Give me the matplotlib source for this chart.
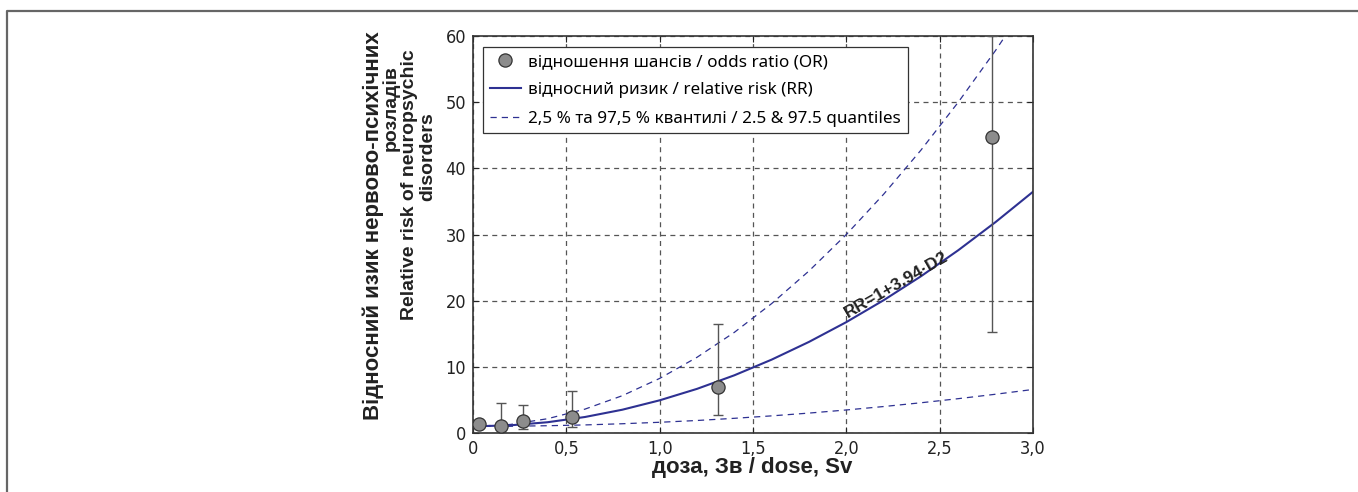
import numpy as np
import matplotlib
matplotlib.use("Agg")
import matplotlib.pyplot as plt
from matplotlib.lines import Line2D

# odds ratio points with confidence limits
or_dose = [0.03, 0.15, 0.27, 0.53, 1.31, 2.78]
or_value = [1.3, 1.1, 1.8, 2.4, 7.0, 44.8]
or_low = [0.9, 0.7, 0.6, 0.9, 2.7, 15.2]
or_high = [1.7, 4.5, 4.3, 6.3, 16.4, 60.0]

# model curves
curve_dose = [0.0, 0.2, 0.4, 0.6, 0.8, 1.0, 1.2, 1.4, 1.6, 1.8, 2.0, 2.2, 2.4, 2.6, 2.8, 3.0]
rr_mid = [1.00, 1.16, 1.63, 2.42, 3.52, 4.94, 6.67, 8.72, 11.09, 13.77, 16.76, 20.07, 23.69, 27.63, 31.89, 36.46]
rr_upper = [1.00, 1.29, 2.16, 3.61, 5.64, 8.25, 11.44, 15.21, 19.56, 24.49, 30.00, 36.09, 42.76, 50.01, 57.84, 66.25]
rr_lower = [1.00, 1.02, 1.10, 1.22, 1.40, 1.62, 1.89, 2.22, 2.59, 3.01, 3.48, 4.00, 4.57, 5.19, 5.86, 6.58]

x_ticks = [0, 0.5, 1.0, 1.5, 2.0, 2.5, 3.0]
x_tick_labels = ["0", "0,5", "1,0", "1,5", "2,0", "2,5", "3,0"]
y_ticks = [0, 10, 20, 30, 40, 50, 60]

W, H = 1358, 492
blue = "#2e3192"
bold_font = ["Liberation Sans", "DejaVu Sans"]

fig = plt.figure(figsize=(W / 100, H / 100), dpi=100)
ax = fig.add_axes([473 / W, 1 - 433 / H, 560 / W, 397 / H])

ax.grid(True, color="#555555", linestyle=(0, (4, 3.5)), linewidth=0.9)
ax.set_axisbelow(True)

ax.plot(curve_dose, rr_mid, color=blue, linewidth=1.5,
        label="відносний ризик / relative risk (RR)")
ax.plot(curve_dose, rr_upper, color=blue, linewidth=0.9, linestyle=(0, (5, 4)),
        label="2,5 % та 97,5 % квантилі / 2.5 & 97.5 quantiles")
ax.plot(curve_dose, rr_lower, color=blue, linewidth=0.9, linestyle=(0, (5, 4)))

yerr = [np.array(or_value) - np.array(or_low), np.array(or_high) - np.array(or_value)]
ax.errorbar(or_dose, or_value, yerr=yerr, fmt="none", ecolor="#555555",
            elinewidth=1.0, capsize=3.6, capthick=1.0, zorder=3)
ax.plot(or_dose, or_value, "o", markersize=9.5, markerfacecolor="#8c8c8c",
        markeredgecolor="#333333", markeredgewidth=0.9, zorder=4,
        label="відношення шансів / odds ratio (OR)")

ax.set_xlim(0, 3.0)
ax.set_ylim(0, 60)
ax.set_xticks(x_ticks)
ax.set_xticklabels(x_tick_labels)
ax.set_yticks(y_ticks)
for lab in ax.get_xticklabels() + ax.get_yticklabels():
    lab.set_family("DejaVu Sans")
    lab.set_stretch("condensed")
    lab.set_fontsize(13)
ax.tick_params(direction="in", length=4, width=0.8, top=True, right=True,
               pad=5, colors="#222222")
for sp in ax.spines.values():
    sp.set_linewidth(1.2)
    sp.set_color("#333333")

ax.text(2.27, 22.4, "RR=1+3.94·D2", rotation=30, rotation_mode="anchor",
        ha="center", va="center", fontsize=12.5, fontweight="bold",
        family=bold_font, color="#222222")

handles, labels = ax.get_legend_handles_labels()
order = [2, 0, 1]
leg = ax.legend([handles[i] for i in order], [labels[i] for i in order],
                loc="upper left", bbox_to_anchor=(0.018, 0.972), fancybox=False,
                edgecolor="#333333", framealpha=1, handlelength=1.8,
                prop={"family": ["Noto Sans", "DejaVu Sans"], "size": 12.3},
                borderpad=0.4, labelspacing=0.72, handletextpad=0.45,
                borderaxespad=0)
leg.get_frame().set_linewidth(0.9)

fig.text(752 / W, 1 - 468 / H, "доза, Зв / dose, Sv", ha="center", va="center",
         fontsize=16, fontweight="bold", family=bold_font, color="#222222")

ylab = [("Відносний изик нервово-психічних", 373, 226, 16),
        ("розладів", 391, 108, 14),
        ("Relative risk of neuropsychic", 409, 185, 14),
        ("disorders", 428, 157, 14)]
for txt, px, py, fs in ylab:
    fig.text(px / W, 1 - py / H, txt, rotation=90, ha="center", va="center",
             fontsize=fs, fontweight="bold", family=bold_font, color="#222222")

# outer frame
fig.add_artist(Line2D([1.0, 7 / W, 7 / W], [1 - 11 / H, 1 - 11 / H, 0],
                      transform=fig.transFigure, color="#666666", linewidth=1.6))

fig.savefig("out.png", dpi=100)
